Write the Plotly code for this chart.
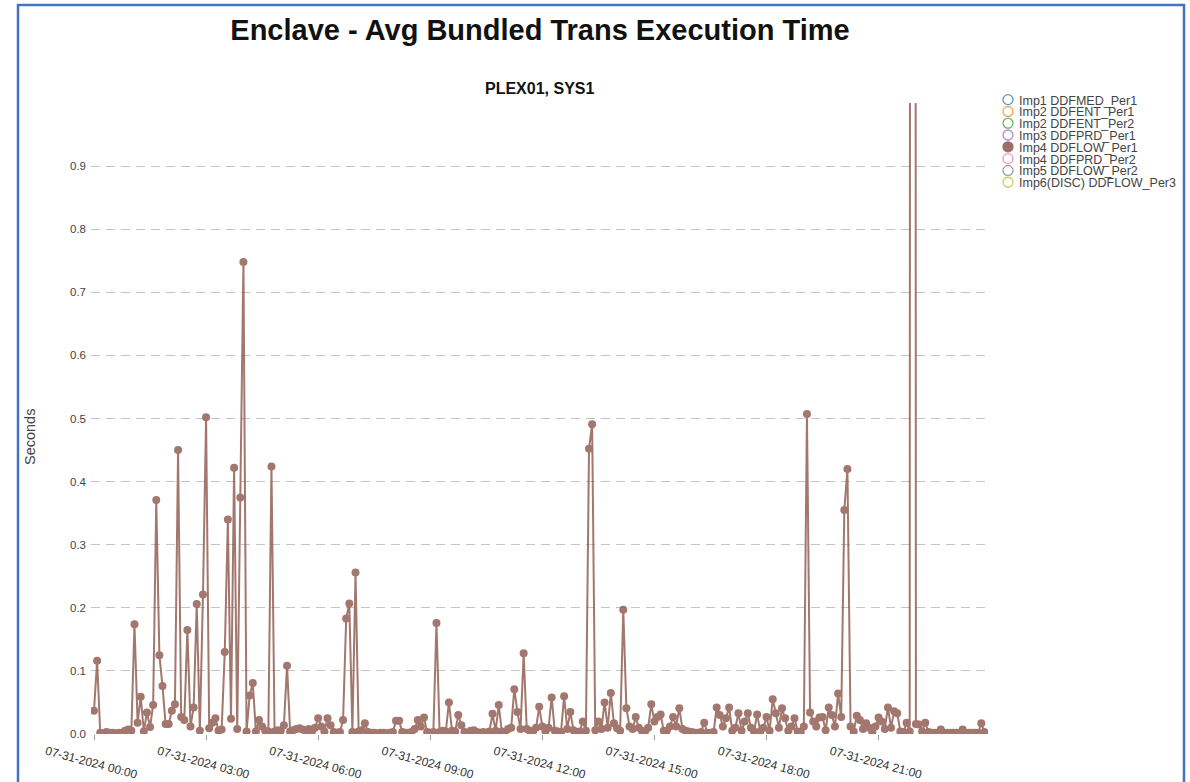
import pandas as pd
import plotly.graph_objects as go

# ---------------- data ----------------
series_names = ["Imp1 DDFMED_Per1", "Imp2 DDFENT_Per1", "Imp2 DDFENT_Per2", "Imp3 DDFPRD_Per1",
                "Imp4 DDFLOW_Per1", "Imp4 DDFPRD_Per2", "Imp5 DDFLOW_Per2", "Imp6(DISC) DDFLOW_Per3"]
series_colors = ["#1f77b4", "#ff7f0e", "#2ca02c", "#9467bd", "#8c564b", "#e377c2", "#7f7f7f", "#bcbd22"]
active_series = "Imp4 DDFLOW_Per1"

start_time = "2024-07-31 00:00"
interval = "5min"

imp4_ddflow_per1 = [
    0.037, 0.116, 0.002, 0.001, 0.003, 0.002, 0.002, 0.001, 0.002, 0.002,
    0.005, 0.007, 0.005, 0.174, 0.018, 0.059, 0.004, 0.034, 0.011, 0.046,
    0.371, 0.125, 0.076, 0.016, 0.016, 0.037, 0.047, 0.450, 0.027, 0.022,
    0.165, 0.012, 0.042, 0.206, 0.005, 0.221, 0.502, 0.009, 0.018, 0.025,
    0.005, 0.007, 0.130, 0.340, 0.024, 0.422, 0.008, 0.375, 0.748, 0.004,
    0.061, 0.081, 0.004, 0.022, 0.012, 0.005, 0.004, 0.424, 0.004, 0.006,
    0.005, 0.014, 0.108, 0.004, 0.006, 0.008, 0.009, 0.007, 0.005, 0.008,
    0.004, 0.010, 0.025, 0.012, 0.004, 0.025, 0.014, 0.003, 0.002, 0.003,
    0.022, 0.183, 0.207, 0.003, 0.256, 0.004, 0.006, 0.017, 0.003, 0.002,
    0.002, 0.001, 0.002, 0.002, 0.001, 0.002, 0.003, 0.021, 0.021, 0.003,
    0.002, 0.002, 0.003, 0.008, 0.022, 0.012, 0.026, 0.003, 0.002, 0.003,
    0.176, 0.003, 0.005, 0.004, 0.050, 0.005, 0.004, 0.030, 0.014, 0.003,
    0.002, 0.005, 0.006, 0.003, 0.002, 0.003, 0.002, 0.004, 0.032, 0.005,
    0.046, 0.004, 0.003, 0.008, 0.010, 0.071, 0.035, 0.008, 0.128, 0.008,
    0.005, 0.004, 0.010, 0.043, 0.012, 0.004, 0.010, 0.058, 0.005, 0.004,
    0.003, 0.060, 0.008, 0.035, 0.006, 0.003, 0.004, 0.020, 0.005, 0.452,
    0.491, 0.006, 0.020, 0.008, 0.050, 0.010, 0.065, 0.017, 0.009, 0.005,
    0.197, 0.041, 0.012, 0.008, 0.027, 0.010, 0.005, 0.004, 0.010, 0.047,
    0.020, 0.027, 0.031, 0.005, 0.005, 0.012, 0.027, 0.012, 0.041, 0.008,
    0.005, 0.004, 0.003, 0.002, 0.002, 0.003, 0.018, 0.002, 0.002, 0.003,
    0.042, 0.030, 0.012, 0.025, 0.042, 0.005, 0.010, 0.033, 0.005, 0.020,
    0.033, 0.010, 0.004, 0.031, 0.004, 0.010, 0.027, 0.005, 0.055, 0.033,
    0.010, 0.041, 0.025, 0.005, 0.012, 0.025, 0.004, 0.003, 0.012, 0.507,
    0.034, 0.020, 0.012, 0.026, 0.027, 0.006, 0.042, 0.030, 0.012, 0.064,
    0.027, 0.355, 0.420, 0.012, 0.004, 0.029, 0.022, 0.008, 0.017, 0.010,
    0.003, 0.012, 0.026, 0.020, 0.008, 0.042, 0.010, 0.036, 0.033, 0.004,
    0.003, 0.018, 0.004, 12.000, 0.016, 0.015, 0.004, 0.018, 0.003, 0.002,
    0.002, 0.002, 0.007, 0.002, 0.002, 0.002, 0.002, 0.002, 0.002, 0.007,
    0.002, 0.002, 0.002, 0.002, 0.002, 0.017, 0.003,
]

y_ticks = [0.0, 0.1, 0.2, 0.3, 0.4, 0.5, 0.6, 0.7, 0.8, 0.9]

times = pd.date_range(start_time, periods=len(imp4_ddflow_per1), freq=interval)

# ---------------- layout geometry (px) ----------------
W, H = 1190, 782
PL, PR, PT, PB = 91, 988, 103, 734
pw, ph = PR - PL, PB - PT


def px_x(x):
    return (x - PL) / pw


def px_y(y):
    return (PB - y) / ph


fig = go.Figure()

main_color = "#8c564b"
fig.add_trace(go.Scatter(
    x=times, y=imp4_ddflow_per1, mode="lines+markers",
    name=active_series, showlegend=False,
    line=dict(color=main_color, width=2),
    marker=dict(color=main_color, size=8),
    opacity=0.8, cliponaxis=True,
))

# legend entries
for name, col in zip(series_names, series_colors):
    filled = name == active_series
    fig.add_trace(go.Scatter(
        x=[None], y=[None], mode="markers", name=name,
        marker=dict(symbol="circle" if filled else "circle-open",
                    color=col, size=10, line=dict(color=col, width=1.3)),
        opacity=0.85 if filled else 0.75,
    ))

t0 = pd.Timestamp(start_time)
x_start = t0 - pd.Timedelta(hours=(94 - PL) / 37.36)
x_end = t0 + pd.Timedelta(hours=(PR - 94) / 37.36)

fig.update_layout(
    width=W, height=H, autosize=False,
    margin=dict(l=PL, r=W - PR, t=PT, b=H - PB, pad=0, autoexpand=False),
    paper_bgcolor="white", plot_bgcolor="white",
    font=dict(family="Liberation Sans, Arial, sans-serif", color="#333"),
    title=dict(text="<b>Enclave - Avg Bundled Trans Execution Time</b>",
               x=px_x(540), xref="paper", xanchor="center",
               y=1 - 30 / H, yref="container", yanchor="middle",
               font=dict(size=29, color="#111")),
    showlegend=True,
    legend=dict(x=px_x(977), y=px_y(85), xanchor="left", yanchor="top",
                font=dict(size=12.5, color="#444"), bgcolor="rgba(0,0,0,0)",
                itemclick=False, itemdoubleclick=False, tracegroupgap=0),
    xaxis=dict(
        type="date", range=[x_start, x_end], automargin=False,
        tick0=start_time, dtick=3 * 3600 * 1000,
        tickformat="%m-%d-%Y %H:%M", tickangle=15,
        tickfont=dict(size=12, color="#333"),
        ticks="outside", ticklen=5, tickcolor="#999",
        showgrid=False, zeroline=False, showline=False,
        ticklabelshift=-48,
    ),
    yaxis=dict(
        range=[0, 1.0], tickvals=y_ticks, tickformat=".1f", automargin=False,
        tickfont=dict(size=11.5, color="#444"),
        showgrid=True, gridcolor="#c4c4c4", gridwidth=1.3, griddash="9px,6px",
        zeroline=False, showline=False, ticks="", ticklabelstandoff=4,
    ),
    annotations=[
        dict(text="<b>PLEX01, SYS1</b>", x=px_x(539), y=px_y(88), xref="paper", yref="paper",
             showarrow=False, font=dict(size=16, color="#111"), xanchor="center", yanchor="middle"),
        dict(text="Seconds", x=px_x(30), y=px_y(437), xref="paper", yref="paper",
             showarrow=False, textangle=-90, font=dict(size=14.5, color="#444"),
             xanchor="center", yanchor="middle"),
    ],
    shapes=[
        dict(type="rect", xref="paper", yref="paper",
             x0=px_x(18), x1=px_x(1184), y0=px_y(800), y1=px_y(5),
             line=dict(color="#4472c4", width=2.5), fillcolor="rgba(0,0,0,0)", layer="below"),
    ],
)

# compact legend rows (the reference legend uses ~11.8px per entry)
post = """
document.body.style.margin='0';document.body.style.overflow='hidden';
var gd=document.getElementById('{plot_id}');
function compactLegend(){
  var items=gd.querySelectorAll('.legend .traces');
  if(!items.length) return;
  var m=/translate\\(([-\\d.]+),\\s*([-\\d.]+)\\)/.exec(items[0].getAttribute('transform')||'');
  var y0=m?parseFloat(m[2]):0;
  items.forEach(function(el,k){
    el.setAttribute('transform','translate(11,'+(y0+k*11.8)+')');
    var t=el.querySelector('.legendtext'); if(t){t.setAttribute('x',31);}
  });
}
compactLegend();
if(gd.on){gd.on('plotly_afterplot',compactLegend);}
"""

fig.write_html("out.html", config={"displayModeBar": False}, post_script=post)
